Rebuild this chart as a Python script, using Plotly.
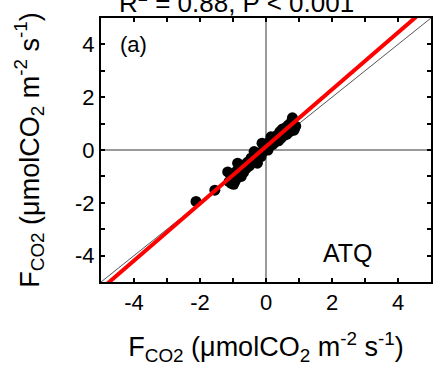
import numpy as np
import plotly.graph_objects as go

# Observed vs. modelled CO2 flux (umol CO2 m-2 s-1), site ATQ
flux_x = [-2.12, -1.55, -1.16, -1.12, -1.05, -1.02, -0.98, -0.95, -0.92, -0.88,
          -0.86, -0.82, -0.78, -0.75, -0.72, -0.68, -0.64, -0.60, -0.55, -0.50,
          -0.45, -0.40, -0.36, -0.30, -0.26, -0.20, -0.15, -0.12, -0.08, -0.03,
          0.02, 0.06, 0.10, 0.15, 0.20, 0.24, 0.28, 0.33, 0.38, 0.42,
          0.46, 0.50, 0.55, 0.60, 0.64, 0.68, 0.72, 0.76, 0.80, 0.85, 0.90]
flux_y = [-1.95, -1.52, -0.83, -1.20, -1.26, -1.05, -1.30, -0.95, -1.15, -0.78,
          -0.50, -0.95, -0.70, -1.00, -0.62, -0.85, -0.55, -0.70, -0.45, -0.60,
          -0.30, -0.45, -0.06, -0.30, -0.50, -0.10, -0.25, 0.26, -0.05, 0.10,
          0.15, 0.00, 0.30, 0.50, 0.20, 0.40, 0.30, 0.55, 0.35, 0.70,
          0.45, 0.80, 0.55, 0.85, 0.60, 0.95, 0.70, 1.05, 1.22, 0.75, 0.90]

# Least-squares fit shown in red
fit_slope = 1.08
fit_intercept = 0.13

axis_range = [-5, 5]
tick_vals = [-4, -3, -2, -1, 0, 1, 2, 3, 4]
tick_text = ["-4", "", "-2", "", "0", "", "2", "", "4"]

line_x = np.array(axis_range, dtype=float)

FONT = "Liberation Sans, Arial, sans-serif"
AXIS_TITLE = "F<sub>CO2</sub> (\u03bcmolCO<sub>2</sub> m<sup>-2</sup> s<sup>-1</sup>)"

fig = go.Figure()

# 1:1 reference line
fig.add_trace(go.Scatter(x=line_x, y=line_x, mode="lines",
                         line=dict(color="#555555", width=1), hoverinfo="skip"))

fig.add_trace(go.Scatter(x=flux_x, y=flux_y, mode="markers",
                         marker=dict(color="black", size=11, line=dict(width=0))))

fig.add_trace(go.Scatter(x=line_x, y=fit_slope * line_x + fit_intercept, mode="lines",
                         line=dict(color="#ff0000", width=4), hoverinfo="skip"))

axis_common = dict(
    range=axis_range, tickmode="array", tickvals=tick_vals, ticktext=tick_text,
    ticks="inside", ticklen=4, tickwidth=2, tickcolor="black",
    showline=True, linecolor="black", linewidth=2, mirror="ticks",
    showgrid=False, zeroline=True, zerolinecolor="#9a9a9a", zerolinewidth=1.5,
    tickfont=dict(family=FONT, size=22, color="black"),
)

fig.update_xaxes(**axis_common,
                 title=dict(text=AXIS_TITLE, font=dict(family=FONT, size=27, color="black"),
                            standoff=23))
fig.update_yaxes(**axis_common,
                 title=dict(text=AXIS_TITLE, font=dict(family=FONT, size=27, color="black"),
                            standoff=28))

fig.add_annotation(x=-4.5, y=4.0, xref="x", yref="y", text="(a)", showarrow=False,
                   xanchor="left", yanchor="middle",
                   font=dict(family=FONT, size=22, color="black"))
fig.add_annotation(x=2.48, y=-3.92, xref="x", yref="y", text="ATQ", showarrow=False,
                   xanchor="center", yanchor="middle",
                   font=dict(family=FONT, size=25, color="black"))
fig.add_annotation(x=0.41, y=1.0, xref="paper", yref="paper", yshift=-2,
                   text="R<sup>2</sup> = 0.88, P < 0.001", showarrow=False,
                   xanchor="center", yanchor="bottom",
                   font=dict(family=FONT, size=26, color="black"))

fig.update_layout(
    width=434, height=369,
    margin=dict(l=101, r=1, t=18, b=87),
    paper_bgcolor="white", plot_bgcolor="white",
    showlegend=False,
)

fig.write_html("out.html")
